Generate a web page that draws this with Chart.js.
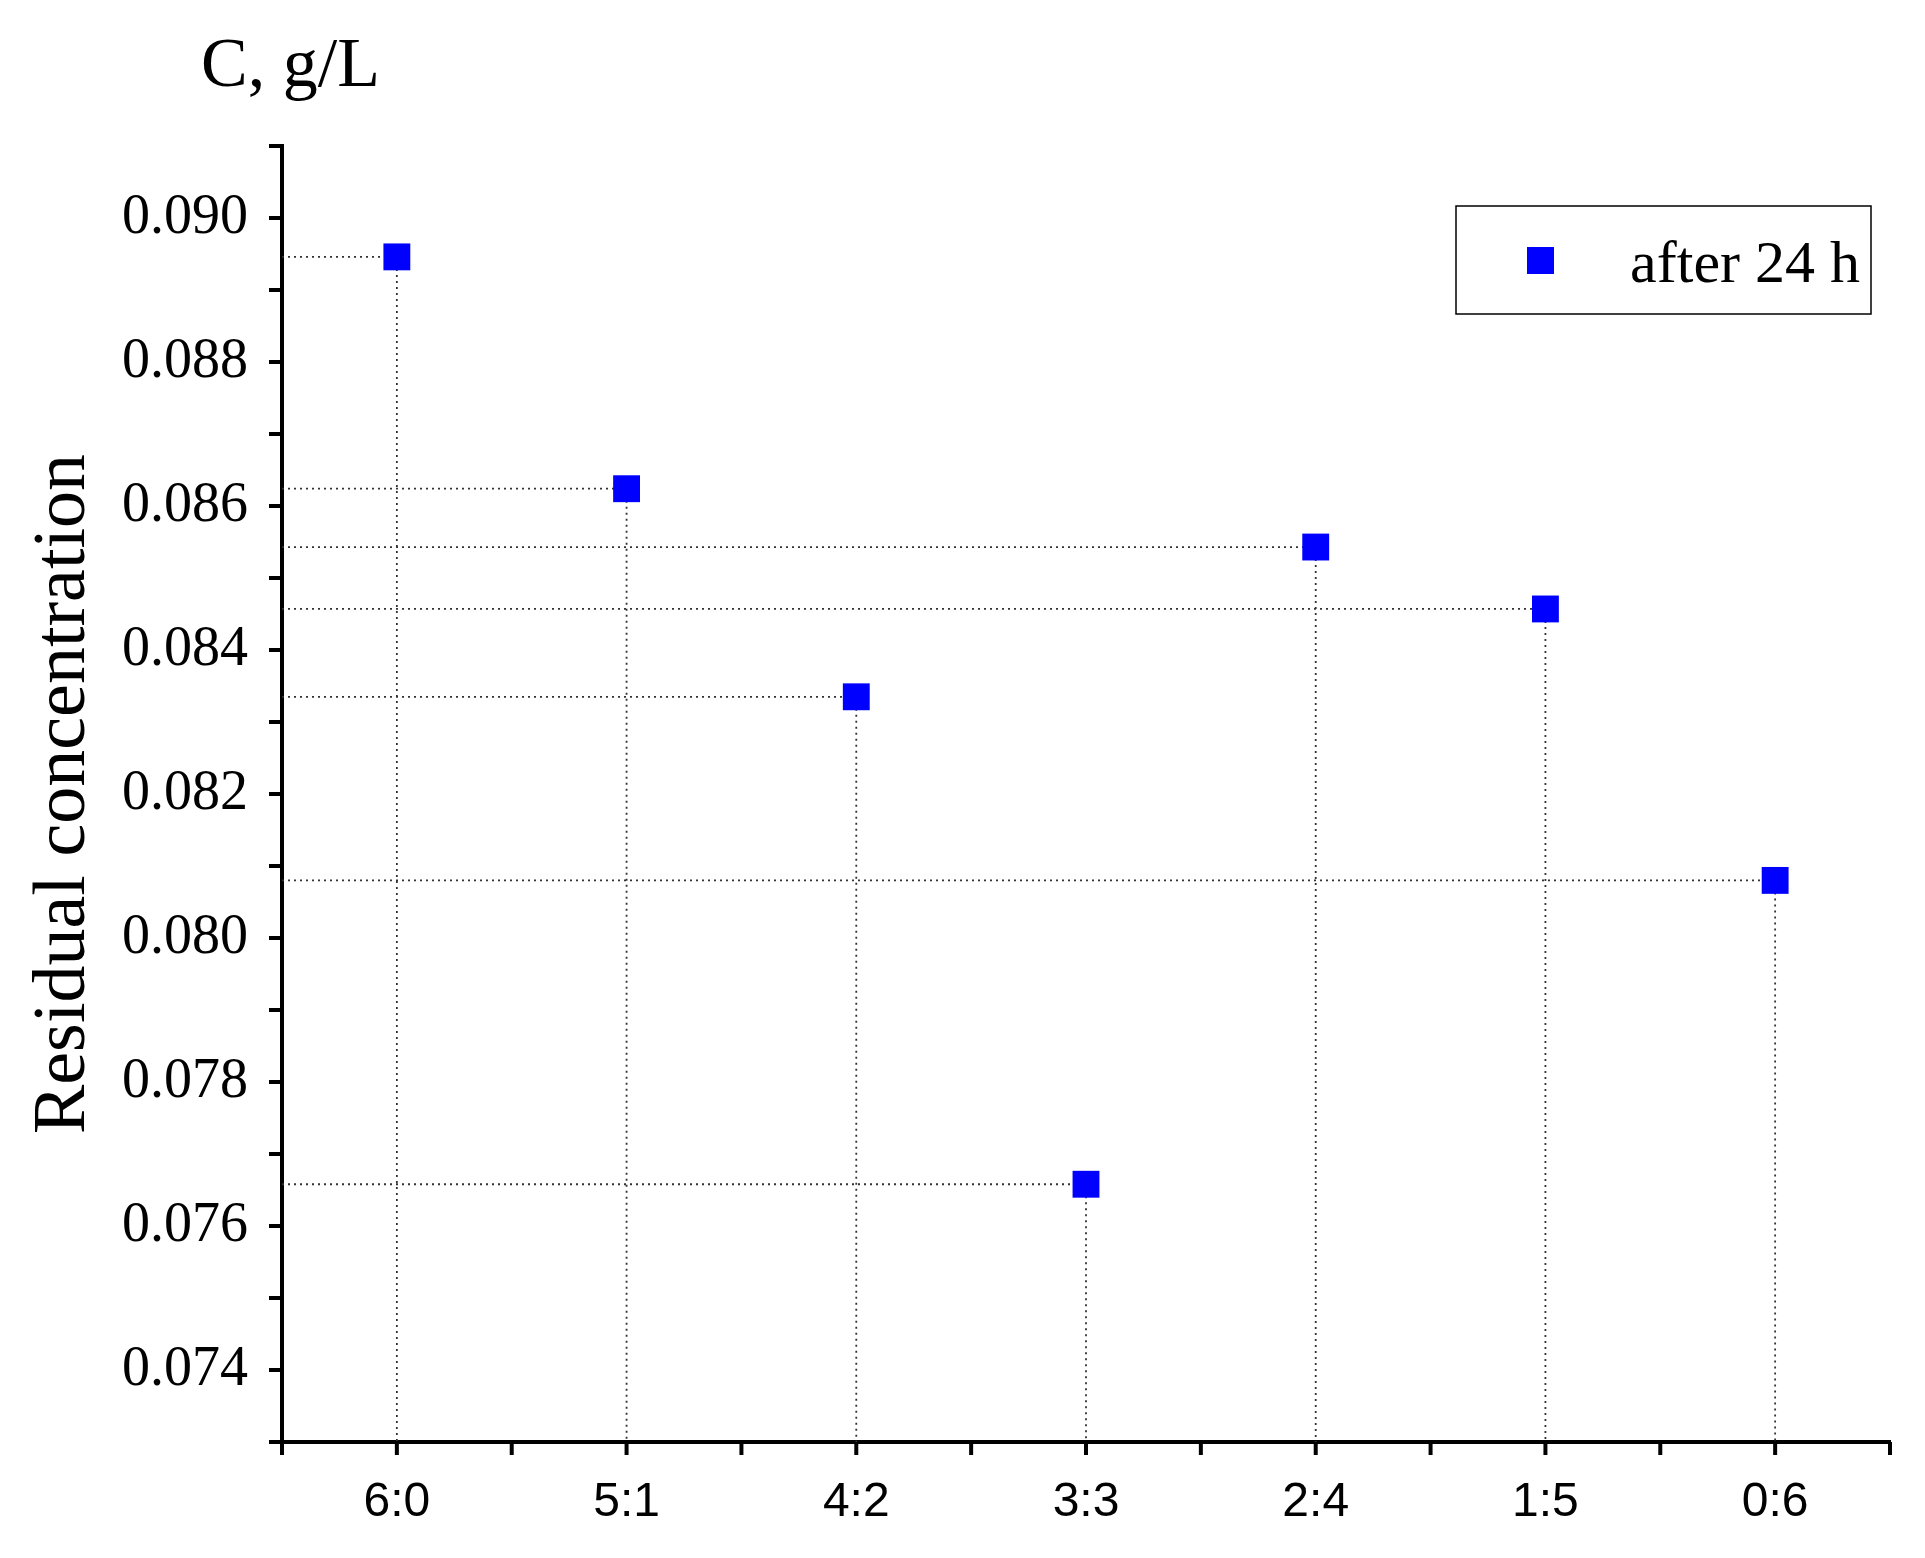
<!DOCTYPE html>
<html>
<head>
<meta charset="utf-8">
<script src="https://cdn.jsdelivr.net/npm/chart.js@4"></script>
<style>
  html, body { margin: 0; padding: 0; background: #fff; }
  #wrap { width: 1925px; height: 1558px; }
</style>
</head>
<body>
<div id="wrap"><canvas id="myChart" width="1925" height="1558"></canvas></div>
<script>
const categories = ['6:0', '5:1', '4:2', '3:3', '2:4', '1:5', '0:6'];
const after24h = [0.08946, 0.08624, 0.08335, 0.07658, 0.08543, 0.08457, 0.0808];
const yTicks = [0.074, 0.076, 0.078, 0.080, 0.082, 0.084, 0.086, 0.088, 0.090];

const serif = '"Liberation Serif", "DejaVu Serif", serif';
const sans = '"Liberation Sans", Arial, sans-serif';

// drop lines, minor ticks, legend and the unit label
const extras = {
  id: 'extras',
  beforeDatasetsDraw(chart) {
    const { ctx, chartArea, scales: { x, y } } = chart;
    ctx.save();
    ctx.strokeStyle = '#333';
    ctx.lineWidth = 1.8;
    ctx.setLineDash([2, 4]);
    after24h.forEach((v, i) => {
      const px = x.getPixelForValue(i), py = y.getPixelForValue(v);
      ctx.beginPath();
      ctx.moveTo(chartArea.left, py); ctx.lineTo(px, py);
      ctx.moveTo(px, py); ctx.lineTo(px, chartArea.bottom);
      ctx.stroke();
    });
    ctx.restore();
  },
  afterDraw(chart) {
    const { ctx, chartArea, scales: { x, y } } = chart;
    ctx.save();
    ctx.strokeStyle = '#000';
    ctx.lineWidth = 4;
    for (let v = 0.073; v <= 0.0910001; v += 0.001) {
      const py = y.getPixelForValue(v);
      ctx.beginPath(); ctx.moveTo(chartArea.left - 13, py); ctx.lineTo(chartArea.left, py); ctx.stroke();
    }
    for (let k = -0.5; k <= categories.length - 0.5; k += 0.5) {
      const px = x.getPixelForValue(k);
      ctx.beginPath(); ctx.moveTo(px, chartArea.bottom); ctx.lineTo(px, chartArea.bottom + 13); ctx.stroke();
    }
    // legend
    ctx.lineWidth = 1.5;
    ctx.strokeRect(1456, 206, 415, 108);
    ctx.fillStyle = '#0000ff';
    ctx.fillRect(1527, 247, 27, 27);
    ctx.fillStyle = '#000';
    ctx.font = '60px ' + serif;
    ctx.textBaseline = 'middle';
    ctx.textAlign = 'right';
    ctx.fillText('after 24 h', 1860, 266);
    // unit label
    ctx.font = '70px ' + serif;
    ctx.textAlign = 'left';
    ctx.textBaseline = 'alphabetic';
    ctx.fillText('C, g/L', 201, 86);
    ctx.restore();
  }
};

new Chart(document.getElementById('myChart').getContext('2d'), {
  type: 'line',
  data: {
    labels: categories,
    datasets: [{
      label: 'after 24 h',
      data: after24h,
      showLine: false,
      pointStyle: 'rect',
      pointRadius: 19,
      pointHoverRadius: 19,
      backgroundColor: '#0000ff',
      borderColor: '#0000ff',
      borderWidth: 0
    }]
  },
  options: {
    responsive: false,
    animation: false,
    layout: { padding: { top: 146, right: 35, left: 20, bottom: 0 } },
    plugins: { legend: { display: false }, tooltip: { enabled: false } },
    scales: {
      x: {
        offset: true,
        grid: { display: false },
        border: { color: '#000', width: 4 },
        ticks: { color: '#000', font: { family: sans, size: 48 }, padding: 24, maxRotation: 0 },
        afterFit(s) { s.height = 116; }
      },
      y: {
        min: 0.073,
        max: 0.091,
        grid: { display: false },
        border: { color: '#000', width: 4 },
        afterBuildTicks(s) { s.ticks = yTicks.map(v => ({ value: v })); },
        ticks: {
          color: '#000', padding: 26,
          font: { family: serif, size: 56 },
          callback: v => v.toFixed(3)
        },
        title: { display: true, text: 'Residual concentration', color: '#000', font: { family: serif, size: 74 }, padding: 0 },
        afterFit(s) { s.width = 262; }
      }
    }
  },
  plugins: [extras]
});
</script>
</body>
</html>
